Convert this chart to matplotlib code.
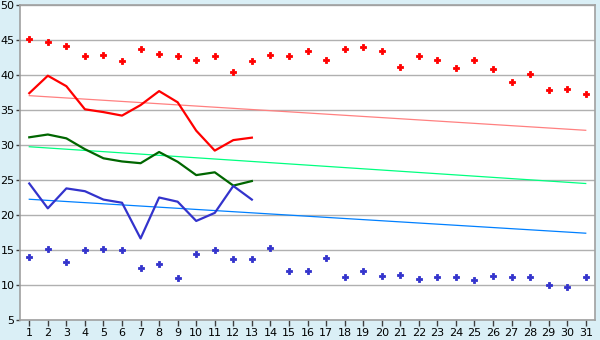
import matplotlib
matplotlib.use("Agg")
import matplotlib.pyplot as plt

days = list(range(1, 32))

# monthly points (top red, bottom blue)
red_points = [45.2, 44.7, 44.1, 42.7, 42.8, 41.95, 43.7, 43.0, 42.7, 42.2, 42.7, 40.4, 41.95,
              42.8, 42.7, 43.5, 42.2, 43.7, 43.95, 43.4, 41.1, 42.7, 42.2, 40.95, 42.2, 40.8,
              38.95, 40.2, 37.8, 37.95, 37.25]
blue_points = [13.95, 15.1, 13.25, 14.95, 15.1, 14.95, 12.4, 12.95, 10.95, 14.4, 14.95, 13.65,
               13.65, 15.25, 11.95, 11.95, 13.8, 11.1, 11.95, 11.25, 11.5, 10.8, 11.1, 11.1,
               10.65, 11.25, 11.1, 11.1, 9.95, 9.65, 11.1]

# lines for first 13 days
line_days = days[:13]
red_line = [37.4, 39.9, 38.4, 35.1, 34.7, 34.2, 35.7, 37.7, 36.1, 32.05, 29.2, 30.7, 31.05]
green_line = [31.1, 31.5, 30.95, 29.4, 28.1, 27.65, 27.4, 29.0, 27.6, 25.7, 26.1, 24.2, 24.85]
blue_line = [24.5, 20.95, 23.8, 23.4, 22.2, 21.75, 16.65, 22.5, 21.9, 19.15, 20.3, 24.15, 22.2]

# trend lines (start, end)
trend_x = [1, 31]
red_trend = [37.05, 32.1]
green_trend = [29.75, 24.5]
blue_trend = [22.25, 17.4]

bg = "#DAEFF6"
fig = plt.figure(figsize=(6, 3.4), dpi=100, facecolor=bg)
ax = fig.add_axes([20 / 600, 20 / 340, 575 / 600, 315 / 340])
ax.set_facecolor("white")

ax.plot(trend_x, red_trend, color="#FF8080", lw=0.9, zorder=2)
ax.plot(trend_x, green_trend, color="#00FF80", lw=0.9, zorder=2)
ax.plot(trend_x, blue_trend, color="#0080FF", lw=0.9, zorder=2)

ax.plot(line_days, red_line, color="#FF0000", lw=1.6, zorder=3)
ax.plot(line_days, green_line, color="#006600", lw=1.6, zorder=3)
ax.plot(line_days, blue_line, color="#3333CC", lw=1.6, zorder=3)

ax.plot(days, red_points, ls="none", marker="P", ms=5, color="#FF0000", mew=0.6, zorder=4)
ax.plot(days, blue_points, ls="none", marker="P", ms=5, color="#3333CC", mew=0.6, zorder=4)

ax.set_xlim(0.5, 31.5)
ax.set_ylim(5, 50)
ax.set_yticks(range(5, 51, 5))
ax.set_xticks(days)
ax.grid(axis="y", color="#B0B0B0", lw=1)
ax.set_axisbelow(True)
for s in ax.spines.values():
    s.set_color("#A0A0A0")
    s.set_linewidth(1.2)
ax.tick_params(axis="both", length=4, width=1, color="#404040", labelsize=8, pad=2)
ax.tick_params(axis="y", length=3, pad=1)

fig.savefig("out.png", dpi=100, facecolor=bg)
